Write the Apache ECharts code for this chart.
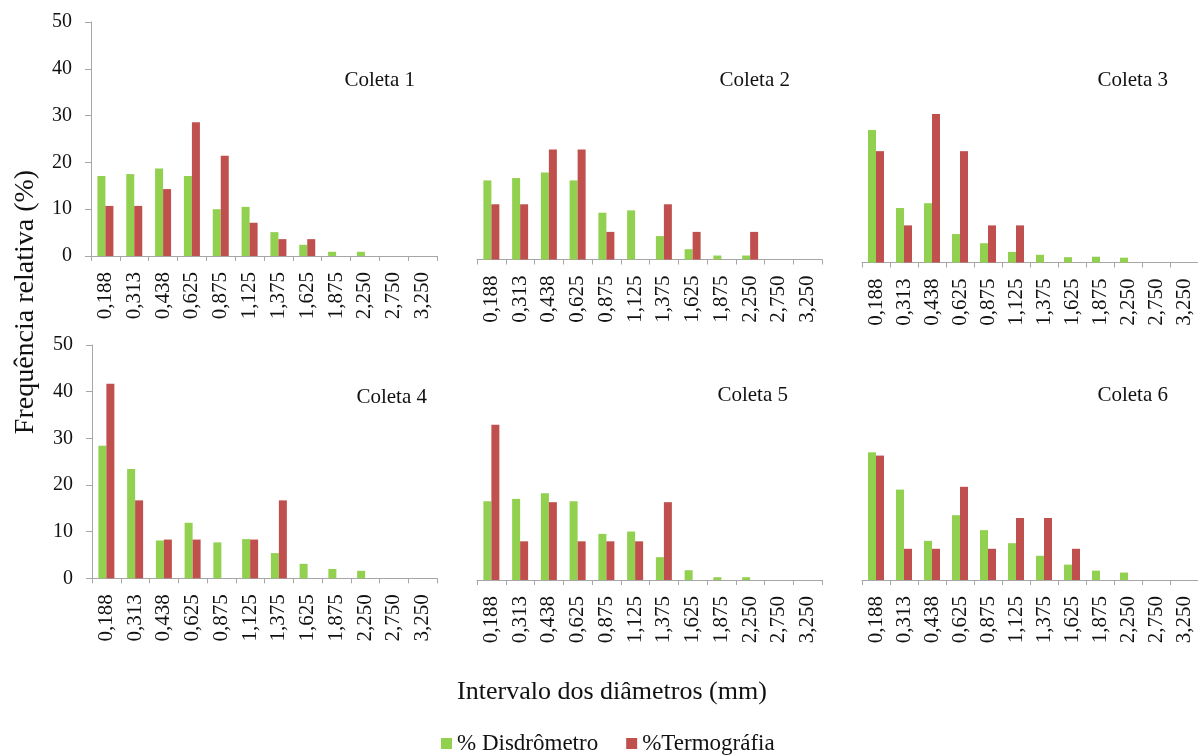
<!DOCTYPE html>
<html>
<head>
<meta charset="utf-8">
<script src="https://cdn.jsdelivr.net/npm/echarts@6/dist/echarts.min.js"></script>
<style>html,body{margin:0;padding:0;background:#fff;}#c{width:1198px;height:755px;}</style>
</head>
<body>
<div id="c"></div>
<script>
const categories = ['0,188','0,313','0,438','0,625','0,875','1,125','1,375','1,625','1,875','2,250','2,750','3,250'];
const panelTitles = ['Coleta 1','Coleta 2','Coleta 3','Coleta 4','Coleta 5','Coleta 6'];
const seriesNames = ['% Disdrômetro','%Termográfia'];
const yAxisName = 'Frequência relativa (%)';
const xAxisName = 'Intervalo dos diâmetros (mm)';

const disdrometro1 = [17.1,17.5,18.7,17.1,10.0,10.5,5.1,2.4,0.9,0.9,0,0];
const termografia1 = [10.7,10.7,14.3,28.6,21.4,7.1,3.6,3.6,0,0,0,0];
const disdrometro2 = [16.9,17.4,18.6,16.9,10.0,10.5,5.0,2.2,0.85,0.85,0,0];
const termografia2 = [11.8,11.8,23.5,23.5,5.9,0,11.8,5.9,0,5.9,0,0];
const disdrometro3 = [27.5,11.3,12.3,5.9,4.0,2.2,1.6,1.1,1.2,1.0,0,0];
const termografia3 = [23.1,7.7,30.8,23.1,7.7,7.7,0,0,0,0,0,0];
const disdrometro4 = [28.4,23.4,8.1,11.9,7.7,8.4,5.4,3.1,2.0,1.6,0,0];
const termografia4 = [41.7,16.7,8.3,8.3,0,8.3,16.7,0,0,0,0,0];
const disdrometro5 = [16.9,17.4,18.6,16.9,9.9,10.4,4.9,2.1,0.6,0.6,0,0];
const termografia5 = [33.3,8.3,16.7,8.3,8.3,8.3,16.7,0,0,0,0,0];
const disdrometro6 = [27.4,19.4,8.4,13.9,10.7,7.9,5.2,3.3,2.0,1.6,0,0];
const termografia6 = [26.7,6.7,6.7,20.0,6.7,13.3,13.3,6.7,0,0,0,0];

const yMin = 0, yMax = 50, yInterval = 10;

const disdrometro = [disdrometro1,disdrometro2,disdrometro3,disdrometro4,disdrometro5,disdrometro6];
const termografia = [termografia1,termografia2,termografia3,termografia4,termografia5,termografia6];

const FONT = "'Liberation Serif','Times New Roman',serif";
const GREEN = '#92D050', RED = '#C0504D', AXIS = '#A6A6A6';

const grids = [
  {left:91, top:22, width:346, height:234},
  {left:477, top:25.5, width:345, height:234},
  {left:862, top:21.5, width:345, height:241},
  {left:92, top:345, width:345, height:233.3},
  {left:477, top:347, width:345, height:233},
  {left:862, top:347, width:345, height:233}
];
const titlePos = [[415,80],[790,80],[1168,80],[427,397],[788,395],[1168,395]];

const xAxes = [], yAxes = [], series = [], graphics = [];
grids.forEach((g,i)=>{
  xAxes.push({
    type:'category', gridIndex:i, data:categories,
    axisLine:{show:true, lineStyle:{color:AXIS, width:1}},
    axisTick:{show:true, alignWithLabel:false, length:5, lineStyle:{color:AXIS}},
    axisLabel:{rotate:90, margin:16, fontFamily:FONT, fontSize:21, color:'#111', interval:0},
    splitLine:{show:false}
  });
  const showY = (i===0 || i===3);
  yAxes.push({
    type:'value', gridIndex:i, min:yMin, max:yMax, interval:yInterval,
    axisLine:{show:showY, lineStyle:{color:AXIS}},
    axisTick:{show:showY, length:6, lineStyle:{color:AXIS}},
    axisLabel:{show:showY, margin:19, fontFamily:FONT, fontSize:20, color:'#111'},
    splitLine:{show:false}
  });
  series.push({
    name:seriesNames[0], type:'bar', xAxisIndex:i, yAxisIndex:i,
    data:disdrometro[i], barWidth:8, barGap:'0%', itemStyle:{color:GREEN}, silent:true
  });
  series.push({
    name:seriesNames[1], type:'bar', xAxisIndex:i, yAxisIndex:i,
    data:termografia[i], barWidth:8, barGap:'0%', itemStyle:{color:RED}, silent:true
  });
  graphics.push({
    type:'text', x:titlePos[i][0], y:titlePos[i][1],
    style:{text:panelTitles[i], fontFamily:FONT, fontSize:21, fill:'#111', textAlign:'right', textVerticalAlign:'middle'}
  });
});

graphics.push({
  type:'text', x:26, y:302, rotation:Math.PI/2,
  style:{text:yAxisName, fontFamily:FONT, fontSize:28, fill:'#111', textAlign:'center', textVerticalAlign:'middle'}
});
graphics.push({
  type:'text', x:612, y:692,
  style:{text:xAxisName, fontFamily:FONT, fontSize:26, fill:'#111', textAlign:'center', textVerticalAlign:'middle'}
});

const chart = echarts.init(document.getElementById('c'), null, {renderer:'canvas'});
chart.setOption({
  animation:false,
  backgroundColor:'#fff',
  grid:grids,
  xAxis:xAxes,
  yAxis:yAxes,
  series:series,
  legend:{
    data:[{name:seriesNames[0], itemStyle:{color:GREEN}},{name:seriesNames[1], itemStyle:{color:RED}}],
    left:436, top:727, icon:'rect', itemWidth:11, itemHeight:11, itemGap:28, itemStyle:{borderWidth:0},
    textStyle:{fontFamily:FONT, fontSize:23, color:'#111'}
  },
  graphic:graphics
});
</script>
</body>
</html>
